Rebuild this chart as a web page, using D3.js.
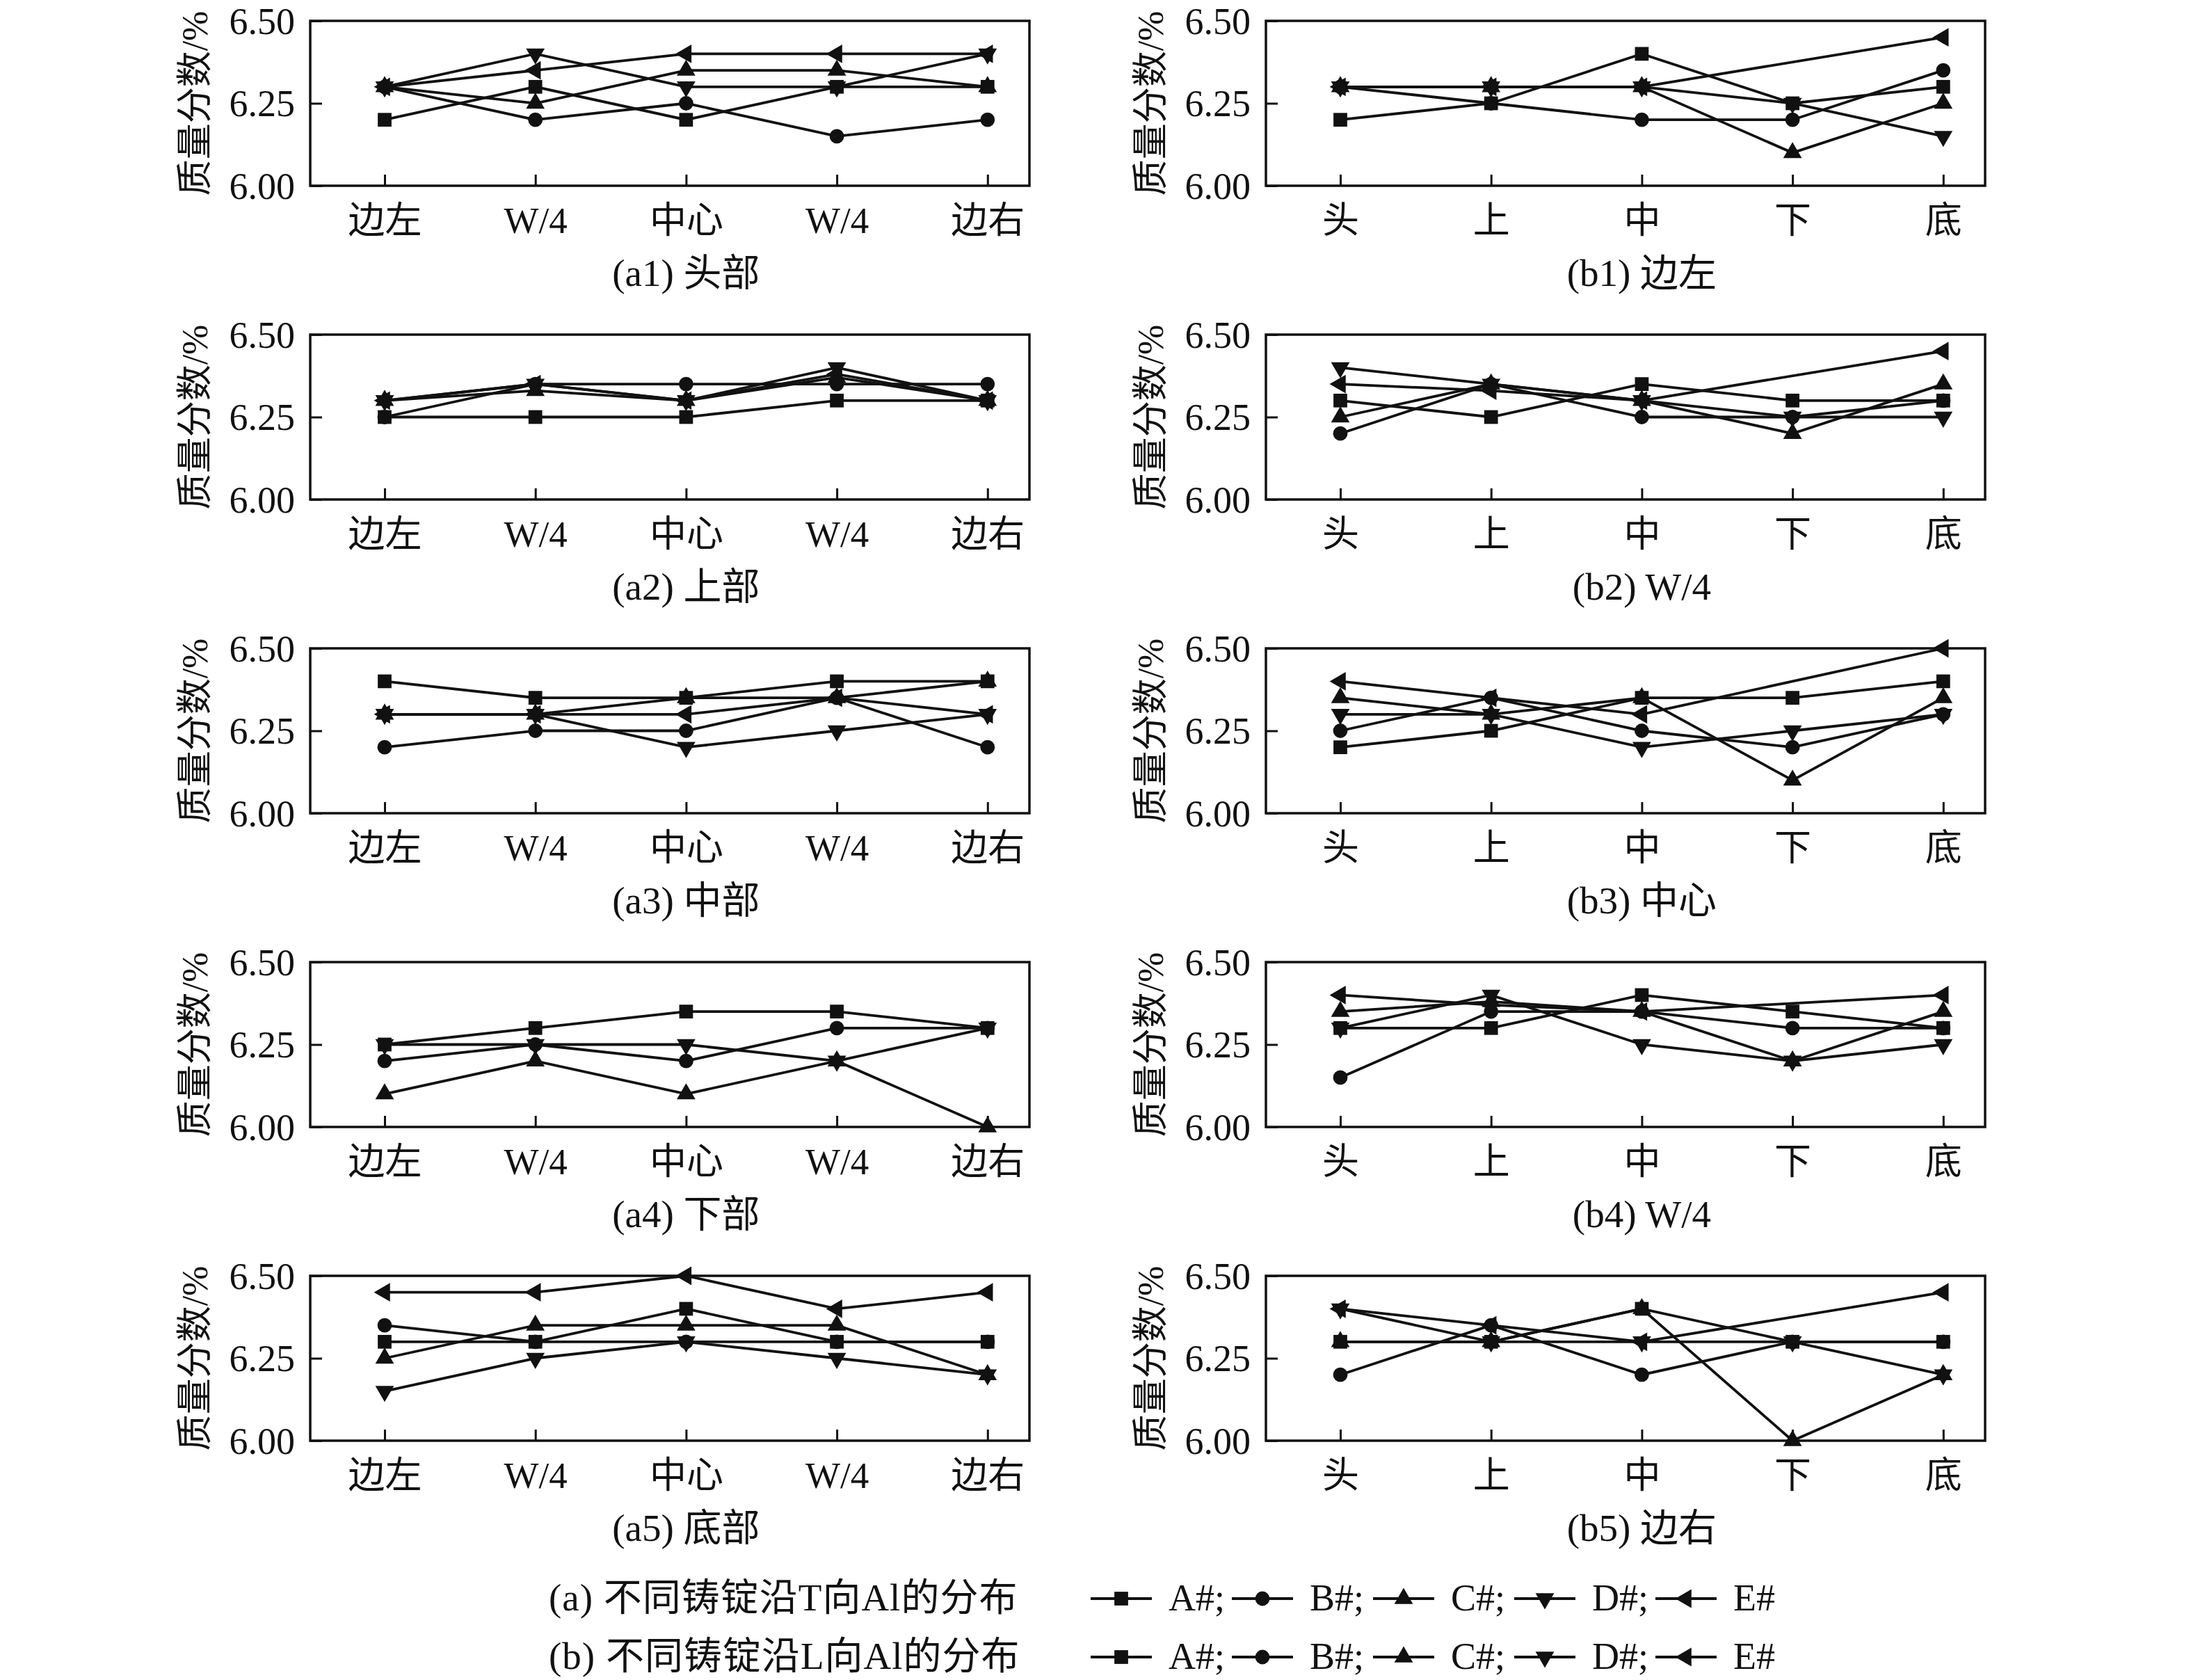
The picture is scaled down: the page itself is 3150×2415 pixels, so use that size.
<!DOCTYPE html>
<html>
<head>
<meta charset="utf-8">
<script src="https://cdn.jsdelivr.net/npm/d3@7.9.0/dist/d3.min.js"></script>
<style>
  body { margin: 0; background: #fff; }
  svg text { font-family: "Liberation Serif", "Noto Sans CJK SC", serif; fill: #111; }
</style>
</head>
<body>
<svg id="chart" width="3150" height="2415"></svg>
<script>
// categories
const catsT = ['边左', 'W/4', '中心', 'W/4', '边右'];
const catsL = ['头', '上', '中', '下', '底'];
const seriesNames = ['A#', 'B#', 'C#', 'D#', 'E#'];
const yTicks = [6.00, 6.25, 6.50];

// (a) T direction, rows = A#, B#, C#, D#, E#
const a1 = [
  [6.20, 6.30, 6.20, 6.30, 6.30],
  [6.30, 6.20, 6.25, 6.15, 6.20],
  [6.30, 6.25, 6.35, 6.35, 6.30],
  [6.30, 6.40, 6.30, 6.30, 6.40],
  [6.30, 6.35, 6.40, 6.40, 6.40]
];
const a2 = [
  [6.25, 6.25, 6.25, 6.30, 6.30],
  [6.25, 6.35, 6.35, 6.35, 6.35],
  [6.30, 6.33, 6.30, 6.37, 6.30],
  [6.30, 6.35, 6.30, 6.40, 6.30],
  [6.30, 6.35, 6.30, 6.38, 6.30]
];
const a3 = [
  [6.40, 6.35, 6.35, 6.40, 6.40],
  [6.20, 6.25, 6.25, 6.35, 6.20],
  [6.30, 6.30, 6.35, 6.35, 6.40],
  [6.30, 6.30, 6.20, 6.25, 6.30],
  [6.30, 6.30, 6.30, 6.35, 6.30]
];
const a4 = [
  [6.25, 6.30, 6.35, 6.35, 6.30],
  [6.20, 6.25, 6.20, 6.30, 6.30],
  [6.10, 6.20, 6.10, 6.20, 6.00],
  [6.25, 6.25, 6.25, 6.20, 6.30],
  [null, null, null, null, null]
];
const a5 = [
  [6.30, 6.30, 6.40, 6.30, 6.30],
  [6.35, 6.30, 6.30, 6.30, 6.30],
  [6.25, 6.35, 6.35, 6.35, 6.20],
  [6.15, 6.25, 6.30, 6.25, 6.20],
  [6.45, 6.45, 6.50, 6.40, 6.45]
];

// (b) L direction
const b1 = [
  [6.20, 6.25, 6.40, 6.25, 6.30],
  [6.30, 6.25, 6.20, 6.20, 6.35],
  [6.30, 6.30, 6.30, 6.10, 6.25],
  [6.30, 6.30, 6.30, 6.25, 6.15],
  [6.30, 6.30, 6.30, null, 6.45]
];
const b2 = [
  [6.30, 6.25, 6.35, 6.30, 6.30],
  [6.20, 6.35, 6.25, 6.25, 6.30],
  [6.25, 6.35, 6.30, 6.20, 6.35],
  [6.40, 6.35, 6.30, 6.25, 6.25],
  [6.35, 6.33, 6.30, null, 6.45]
];
const b3 = [
  [6.20, 6.25, 6.35, 6.35, 6.40],
  [6.25, 6.35, 6.25, 6.20, 6.30],
  [6.35, 6.30, 6.35, 6.10, 6.35],
  [6.30, 6.30, 6.20, 6.25, 6.30],
  [6.40, 6.35, 6.30, null, 6.50]
];
const b4 = [
  [6.30, 6.30, 6.40, 6.35, 6.30],
  [6.15, 6.35, 6.35, 6.30, 6.30],
  [6.35, 6.38, 6.35, 6.20, 6.35],
  [6.30, 6.40, 6.25, 6.20, 6.25],
  [6.40, 6.37, 6.35, null, 6.40]
];
const b5 = [
  [6.30, 6.30, 6.40, 6.30, 6.30],
  [6.20, 6.35, 6.20, 6.30, 6.30],
  [6.30, 6.30, 6.40, 6.00, 6.20],
  [6.40, 6.30, 6.30, 6.30, 6.20],
  [6.40, 6.35, 6.30, null, 6.45]
];

const panelsA = [a1, a2, a3, a4, a5];
const panelsB = [b1, b2, b3, b4, b5];
const captionsA = ['(a1) 头部', '(a2) 上部', '(a3) 中部', '(a4) 下部', '(a5) 底部'];
const captionsB = ['(b1) 边左', '(b2) W/4', '(b3) 中心', '(b4) W/4', '(b5) 边右'];
const legendTitles = ['(a) 不同铸锭沿T向Al的分布', '(b) 不同铸锭沿L向Al的分布'];

// layout
const svg = d3.select('#chart');
svg.append('rect').attr('width', 3150).attr('height', 2415).attr('fill', '#fff');

const plotW = 1034, plotH = 237;
const colLeft = [446, 1820];
const rowTop = i => 30 + i * 451;
const fontSize = 52;

// marker symbols: square, circle, up, down, left triangle
const symbols = [
  { type: d3.symbolSquare, size: 390, rot: 0 },
  { type: d3.symbolCircle, size: 340, rot: 0 },
  { type: d3.symbolTriangle, size: 310, rot: 0 },
  { type: d3.symbolTriangle, size: 310, rot: 180 },
  { type: d3.symbolTriangle, size: 310, rot: -90 }
];

function drawMarker(g, idx, x, y) {
  const s = symbols[idx];
  g.append('path')
    .attr('d', d3.symbol().type(s.type).size(s.size)())
    .attr('transform', `translate(${x},${y}) rotate(${s.rot})`)
    .attr('fill', '#111');
}

function drawPanel(left, top, cats, data, caption) {
  const g = svg.append('g').attr('transform', `translate(${left},${top})`);

  const x = d3.scalePoint()
    .domain(d3.range(cats.length))
    .range([107, 107 + 4 * 216.7]);
  const y = d3.scaleLinear().domain([6.0, 6.5]).range([plotH, 0]);

  // frame
  g.append('rect')
    .attr('width', plotW).attr('height', plotH)
    .attr('fill', 'none').attr('stroke', '#111').attr('stroke-width', 3.5);

  // x ticks (inward) + labels
  const xAxis = d3.axisBottom(x).tickSize(-16).tickPadding(0).tickFormat(i => cats[i]);
  const xg = g.append('g').attr('transform', `translate(0,${plotH})`).call(xAxis);
  xg.select('.domain').remove();
  xg.selectAll('line').attr('stroke', '#111').attr('stroke-width', 3);
  xg.selectAll('text')
    .attr('y', 68).attr('dy', null)
    .style('font-size', '53px')
    .style('font-family', '"Liberation Serif", "Noto Sans CJK SC", serif')
    .attr('fill', '#111');

  // y ticks (inward) + labels
  const yAxis = d3.axisLeft(y).tickValues(yTicks).tickSize(-17).tickPadding(0)
    .tickFormat(d3.format('.2f'));
  const yg = g.append('g').call(yAxis);
  yg.select('.domain').remove();
  yg.selectAll('line').attr('stroke', '#111').attr('stroke-width', 3);
  yg.selectAll('text')
    .attr('x', -22).attr('dy', '0.34em')
    .style('font-size', '54px')
    .style('font-family', '"Liberation Serif", serif')
    .attr('fill', '#111');

  // y title
  g.append('text')
    .attr('transform', `translate(-166,${plotH / 2}) rotate(-90)`)
    .attr('text-anchor', 'middle')
    .attr('dominant-baseline', 'central')
    .style('font-size', fontSize + 'px')
    .text('质量分数/%');

  // caption
  g.append('text')
    .attr('x', x(2)).attr('y', plotH + 144)
    .attr('text-anchor', 'middle')
    .style('font-size', '55px')
    .text(caption);

  // lines
  const line = d3.line().x(d => x(d.i)).y(d => y(d.v));
  data.forEach((vals) => {
    const pts = vals.map((v, i) => ({ i, v })).filter(d => d.v !== null);
    if (!pts.length) return;
    g.append('path')
      .attr('d', line(pts))
      .attr('fill', 'none')
      .attr('stroke', '#111')
      .attr('stroke-width', 3.8);
  });
  data.forEach((vals, si) => {
    vals.forEach((v, i) => {
      if (v !== null) drawMarker(g, si, x(i), y(v));
    });
  });
}

panelsA.forEach((d, i) => drawPanel(colLeft[0], rowTop(i), catsT, d, captionsA[i]));
panelsB.forEach((d, i) => drawPanel(colLeft[1], rowTop(i), catsL, d, captionsB[i]));

// legend
const legY = [2298, 2382];
legendTitles.forEach((t, r) => {
  const lg = svg.append('g');
  lg.append('text')
    .attr('x', 789).attr('y', legY[r] + 17)
    .style('font-size', '55px')
    .style('letter-spacing', '1px')
    .text(t);
  seriesNames.forEach((name, si) => {
    const x0 = 1568 + si * 203;
    lg.append('line')
      .attr('x1', x0).attr('x2', x0 + 88)
      .attr('y1', legY[r]).attr('y2', legY[r])
      .attr('stroke', '#111').attr('stroke-width', 3.8);
    drawMarker(lg, si, x0 + 44, legY[r]);
    lg.append('text')
      .attr('x', x0 + 112).attr('y', legY[r] + 17)
      .style('font-size', '54px')
      .text(name + (si < seriesNames.length - 1 ? ';' : ''));
  });
});
</script>
</body>
</html>
